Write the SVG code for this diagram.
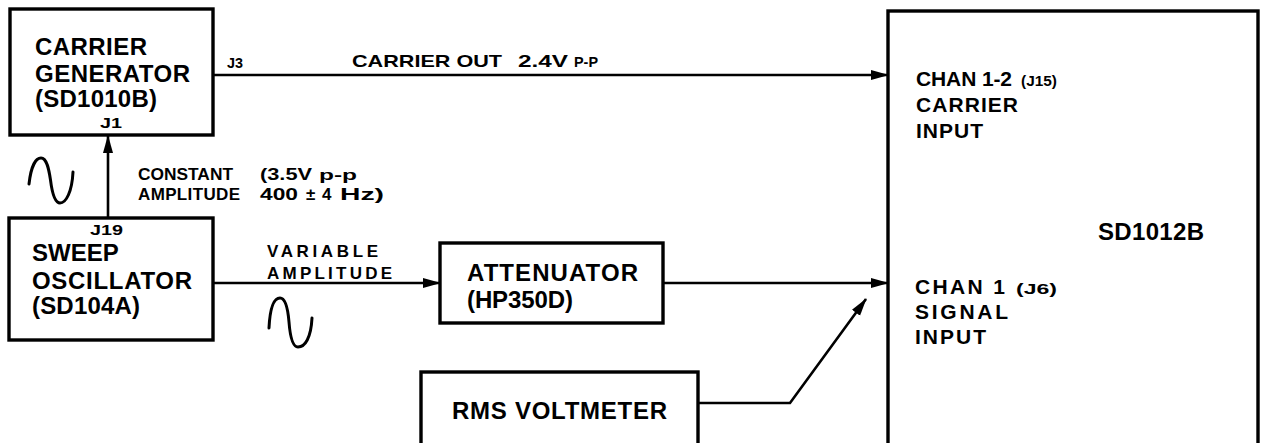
<svg xmlns="http://www.w3.org/2000/svg" width="1264" height="443" viewBox="0 0 1264 443">
<defs>
<style>
.box{fill:#fff;stroke:#000;stroke-width:3.4}
.wire{fill:none;stroke:#000;stroke-width:2.6}
.wave{fill:none;stroke:#000;stroke-width:3;stroke-linecap:round}
text{font-family:"Liberation Sans",Arial,Helvetica,sans-serif;font-weight:bold;fill:#000}
.big{font-size:24px}
.mid{font-size:21px}
.sm{font-size:17px}
.xs{font-size:15px}
</style>
<marker id="arr" markerUnits="userSpaceOnUse" markerWidth="18" markerHeight="12" viewBox="0 0 18 12" refX="17" refY="6" orient="auto">
<path d="M0,1 L18,6 L0,11 Z" fill="#000"/>
</marker>
</defs>
<rect width="1264" height="443" fill="#fff"/>

<g id="connectors">
<line class="wire" x1="213" y1="75" x2="888" y2="75" marker-end="url(#arr)"/>
<line class="wire" x1="108" y1="218" x2="108" y2="136" marker-end="url(#arr)"/>
<line class="wire" x1="213" y1="283" x2="440" y2="283" marker-end="url(#arr)"/>
<line class="wire" x1="663" y1="283" x2="888" y2="283" marker-end="url(#arr)"/>
<polyline class="wire" points="698,403 790,403 866,299" marker-end="url(#arr)"/>
</g>

<g id="carrier-generator">
<rect class="box" x="10" y="9" width="203" height="126"/>
<text class="big" x="35" y="55" textLength="112" lengthAdjust="spacing">CARRIER</text>
<text class="big" x="35" y="82" textLength="155" lengthAdjust="spacing">GENERATOR</text>
<text class="big" x="35" y="107" textLength="122" lengthAdjust="spacing">(SD1010B)</text>
<text class="xs" x="100" y="128" textLength="22" lengthAdjust="spacingAndGlyphs">J1</text>
</g>

<g id="sweep-oscillator">
<rect class="box" x="9" y="218" width="204" height="122"/>
<text class="xs" x="90" y="235" textLength="33" lengthAdjust="spacingAndGlyphs">J19</text>
<text class="big" x="32" y="261">SWEEP</text>
<text class="big" x="32" y="289" textLength="160" lengthAdjust="spacing">OSCILLATOR</text>
<text class="big" x="32" y="314" textLength="108" lengthAdjust="spacing">(SD104A)</text>
</g>

<g id="attenuator">
<rect class="box" x="440" y="243" width="223" height="80"/>
<text class="big" x="467" y="281" textLength="171" lengthAdjust="spacing">ATTENUATOR</text>
<text class="big" x="467" y="308" textLength="106" lengthAdjust="spacing">(HP350D)</text>
</g>

<g id="rms-voltmeter">
<rect class="box" x="421" y="372" width="277" height="90"/>
<text class="big" x="452" y="419" textLength="215" lengthAdjust="spacing">RMS VOLTMETER</text>
</g>

<g id="sd1012b">
<rect class="box" x="888" y="11" width="370" height="460"/>
<text class="mid" x="916" y="86" textLength="96" lengthAdjust="spacing">CHAN 1-2</text>
<text class="xs" x="1021" y="86" textLength="36" lengthAdjust="spacingAndGlyphs">(J15)</text>
<text class="mid" x="916" y="112" textLength="102" lengthAdjust="spacing">CARRIER</text>
<text class="mid" x="916" y="138" textLength="67" lengthAdjust="spacing">INPUT</text>
<text class="big" x="1098" y="240" textLength="106" lengthAdjust="spacing">SD1012B</text>
<text class="mid" x="915" y="294" textLength="90" lengthAdjust="spacing">CHAN 1</text>
<text class="xs" x="1016" y="294" textLength="41" lengthAdjust="spacingAndGlyphs">(J6)</text>
<text class="mid" x="915" y="319" textLength="93" lengthAdjust="spacing">SIGNAL</text>
<text class="mid" x="915" y="344" textLength="71" lengthAdjust="spacing">INPUT</text>
</g>

<g id="labels">
<text class="xs" x="227" y="68" textLength="16" lengthAdjust="spacingAndGlyphs">J3</text>
<text class="sm" x="352" y="67" textLength="150" lengthAdjust="spacingAndGlyphs">CARRIER OUT</text>
<text class="sm" x="518" y="67" textLength="50" lengthAdjust="spacingAndGlyphs">2.4V</text>
<text class="xs" x="574" y="67" textLength="24" lengthAdjust="spacingAndGlyphs">P-P</text>
<text class="sm" x="138" y="180" textLength="95" lengthAdjust="spacingAndGlyphs">CONSTANT</text>
<text class="sm" x="260" y="180" textLength="52" lengthAdjust="spacingAndGlyphs">(3.5V</text>
<text class="xs" x="319" y="180" textLength="38" lengthAdjust="spacingAndGlyphs">p-p</text>
<text class="sm" x="138" y="200" textLength="102" lengthAdjust="spacing">AMPLITUDE</text>
<text class="sm" x="260" y="200" textLength="38" lengthAdjust="spacingAndGlyphs">400</text>
<text class="sm" x="306" y="200">±</text>
<text class="sm" x="322" y="200">4</text>
<text class="sm" x="340" y="200" textLength="44" lengthAdjust="spacingAndGlyphs">Hz)</text>
<text class="sm" x="267" y="257" textLength="111" lengthAdjust="spacing">VARIABLE</text>
<text class="sm" x="267" y="279" textLength="125" lengthAdjust="spacing">AMPLITUDE</text>
</g>

<g id="waveforms">
<path class="wave" d="M29,184 C31,166 36,158 41,158 C47,158 49,170 50.5,180 C52,192 55,203 60,203 C66,203 72,192 73,172"/>
<path class="wave" d="M269,328 C270,308 274,298 280,298 C286,298 288,310 289,322 C290,335 292,347 298,347 C305,347 311,338 312,318"/>
</g>
</svg>
